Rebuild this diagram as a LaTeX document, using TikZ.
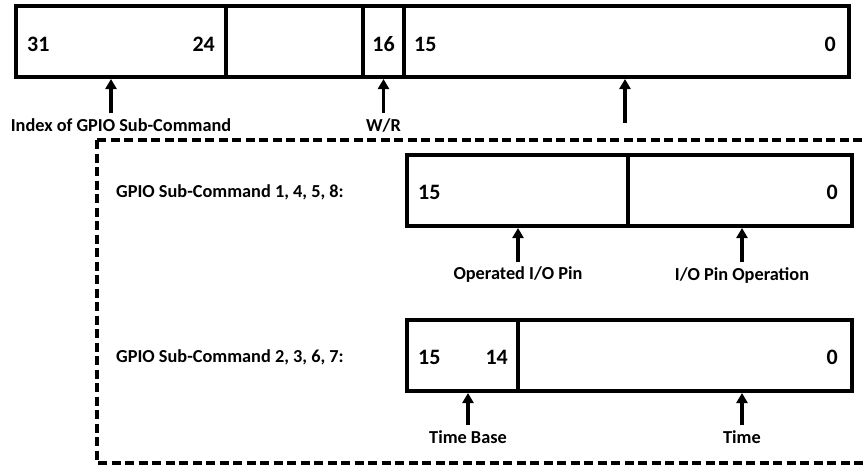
\documentclass[tikz,border=0pt]{standalone}
\usepackage{fontspec}
\setmainfont{Carlito}
\usetikzlibrary{arrows.meta}
\begin{document}
\begin{tikzpicture}[x=1pt,y=-1pt,
  field/.style={draw, line width=3.5pt, minimum height=71pt, inner sep=0pt,
    outer sep=0pt, anchor=north west},
  num/.style={font=\fontsize{22}{22}\selectfont\bfseries, inner sep=0pt},
  lbl/.style={font=\fontsize{18.3}{18.3}\selectfont\bfseries, inner sep=0pt},
  up/.style={line width=3.2pt, -{Triangle[width=11pt,length=10pt]}},
  frame/.style={line width=3.2pt, dash pattern=on 9pt off 4.5pt}]
\useasboundingbox (0,0) rectangle (864,466);

% ---- 32-bit command word ----
\node[field, minimum width=210pt] (f31) at (16,6) {};
\node[field, minimum width=137pt] (f23) at (226,6) {};
\node[field, minimum width=41pt]  (f16) at (363,6) {};
\node[field, minimum width=445pt] (f15) at (404,6) {};
\node[num, anchor=west] (n31) at (27,44) {31};
\node[num, anchor=east] (n24) at (215,44) {24};
\node[num] (n16) at (f16.center |- 0,44) {16};
\node[num, anchor=west] (n15) at (414,44) {15};
\node[num, anchor=east] (n0) at (836,44) {0};

\node[lbl] (idx) at (121,125) {Index of GPIO Sub-Command};
\node[lbl] (wr) at (383.5,125) {W/R};
\coordinate (aidx) at (111,79);
\coordinate (awr) at (383.5,79);
\coordinate (alow) at (625,79);
\coordinate (alowend) at (625,123);
\draw[up] ([yshift=5pt]idx.north -| aidx) -- (aidx);
\draw[up] ([yshift=5pt]wr.north -| awr) -- (awr);
\draw[up] (alowend) -- (alow);

% ---- sub-command detail frame ----
\coordinate (fr1) at (97,140);
\coordinate (fr2) at (872,463);
\draw[frame] (fr1) rectangle (fr2);

% sub-commands 1, 4, 5, 8
\node[lbl, anchor=west] (sc1) at (116,192) {GPIO Sub-Command 1, 4, 5, 8:};
\node[field, minimum width=221pt] (p15) at (407,155) {};
\node[field, minimum width=224pt] (p7) at (628,155) {};
\node[num, anchor=west] (pn15) at (418,192) {15};
\node[num, anchor=east] (pn0) at (838,192) {0};
\node[lbl] (pin) at (518,275) {Operated I/O Pin};
\node[lbl] (op) at (742,275) {I/O Pin Operation};
\coordinate (apin) at (518,228);
\coordinate (aop) at (742,228);
\draw[up] ([yshift=5pt]pin.north -| apin) -- (apin);
\draw[up] ([yshift=5pt]op.north -| aop) -- (aop);

% sub-commands 2, 3, 6, 7
\node[lbl, anchor=west] (sc2) at (116,357) {GPIO Sub-Command 2, 3, 6, 7:};
\node[field, minimum width=111pt] (t15) at (407,320) {};
\node[field, minimum width=334pt] (t13) at (518,320) {};
\node[num, anchor=west] (tn15) at (418,357) {15};
\node[num, anchor=east] (tn14) at (508,357) {14};
\node[num, anchor=east] (tn0) at (838,357) {0};
\node[lbl] (tb) at (468,437) {Time Base};
\node[lbl] (tm) at (742,437) {Time};
\coordinate (atb) at (468,393);
\coordinate (atm) at (742,393);
\draw[up] ([yshift=5pt]tb.north -| atb) -- (atb);
\draw[up] ([yshift=5pt]tm.north -| atm) -- (atm);
\end{tikzpicture}
\end{document}
